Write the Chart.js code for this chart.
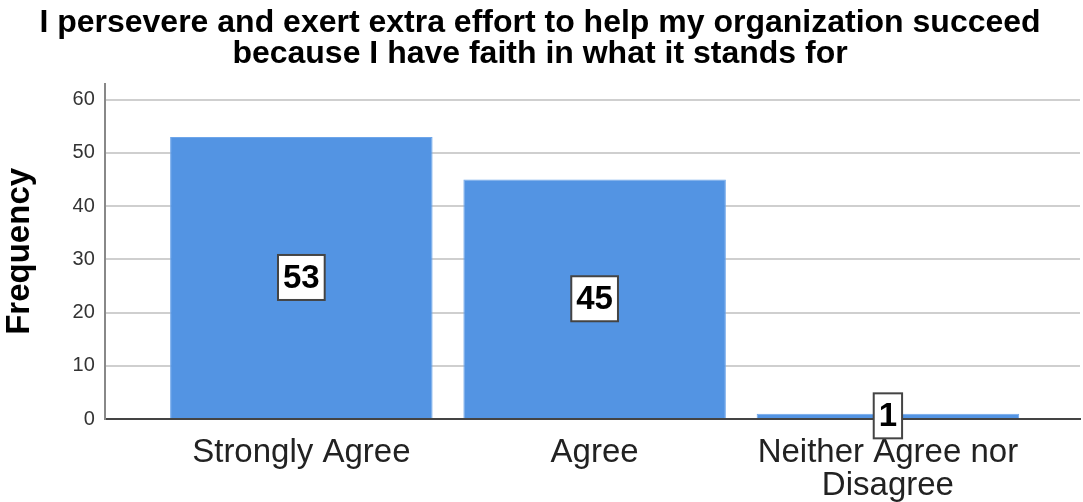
<!DOCTYPE html>
<html>
<head>
<meta charset="utf-8">
<script src="https://cdn.jsdelivr.net/npm/chart.js@4"></script>
<style>
	html, body { margin: 0; padding: 0; background: #fff; }
	#wrap { width: 1083px; height: 502px; }
</style>
</head>
<body>
<div id="wrap"><canvas id="freqChart"></canvas></div>
<script>
const categories = [["Strongly Agree"], ["Agree"], ["Neither Agree nor", "Disagree"]];
const frequencies = [53, 45, 1];
const yTicks = [0, 10, 20, 30, 40, 50, 60];
const titleLines = [
	"I persevere and exert extra effort to help my organization succeed",
	"because I have faith in what it stands for",
];

const barData = frequencies.map((v, i) => ({ x: i, y: v }));
const FONT = "'Liberation Sans', Arial, sans-serif";

// boxed count labels in the middle of each bar
const boxLabels = {
	id: "boxLabels",
	afterDatasetsDraw(chart) {
		const ctx = chart.ctx;
		const meta = chart.getDatasetMeta(0);
		ctx.save();
		ctx.font = "bold 33px " + FONT;
		ctx.textAlign = "center";
		ctx.textBaseline = "middle";
		meta.data.forEach((bar, i) => {
			const txt = String(frequencies[i]);
			const cy = (bar.y + bar.base) / 2;
			const w = ctx.measureText(txt).width + 10;
			const h = 45;
			ctx.fillStyle = "#fff";
			ctx.fillRect(bar.x - w / 2, cy - h / 2, w, h);
			ctx.strokeStyle = "#444";
			ctx.lineWidth = 2;
			ctx.strokeRect(bar.x - w / 2, cy - h / 2, w, h);
			ctx.fillStyle = "#000";
			ctx.fillText(txt, bar.x, cy + 1);
		});
		ctx.restore();
	},
};

const ctx = document.getElementById("freqChart");
const chart = new Chart(ctx, {
	type: "bar",
	data: {
		datasets: [
			{
				label: "Frequency",
				data: barData,
				backgroundColor: "#5394e3",
				borderColor: "#6ea6ea",
				borderWidth: 1,
				barPercentage: 0.895,
				categoryPercentage: 1,
			},
		],
	},
	options: {
		responsive: true,
		maintainAspectRatio: false,
		animation: false,
		layout: { padding: { top: 0, right: 3, bottom: 0, left: 0 } },
		plugins: {
			legend: { display: false },
			tooltip: { enabled: false },
			title: {
				display: true,
				text: titleLines,
				color: "#000",
				font: { family: FONT, size: 32, weight: "bold", lineHeight: 0.98 },
				padding: { top: 7, bottom: 14 },
			},
		},
		scales: {
			x: {
				type: "linear",
				offset: false,
				min: -0.67,
				max: 2.655,
				grid: { display: false, offset: false },
				border: { display: true, color: "#444", width: 2 },
				afterBuildTicks: (axis) => {
					axis.ticks = categories.map((c, i) => ({ value: i }));
				},
				afterFit: (axis) => {
					axis.height = 83;
				},
				ticks: {
					autoSkip: false,
					maxRotation: 0,
					padding: 9,
					color: "#222",
					font: { family: FONT, size: 33, lineHeight: 1.0 },
					callback: (v) => categories[v],
				},
			},
			y: {
				min: 0,
				max: 63,
				afterBuildTicks: (axis) => {
					axis.ticks = yTicks.map((v) => ({ value: v }));
				},
				grid: { color: "#cfcfcf", lineWidth: 2, drawTicks: false },
				border: { display: true, color: "#888", width: 2 },
				ticks: {
					padding: 10,
					color: "#333",
					font: { family: FONT, size: 20 },
				},
				title: {
					display: true,
					text: "Frequency",
					color: "#000",
					font: { family: FONT, size: 33, weight: "bold" },
					padding: { top: 0, bottom: 23 },
				},
			},
		},
	},
	plugins: [boxLabels],
});
</script>
</body>
</html>
